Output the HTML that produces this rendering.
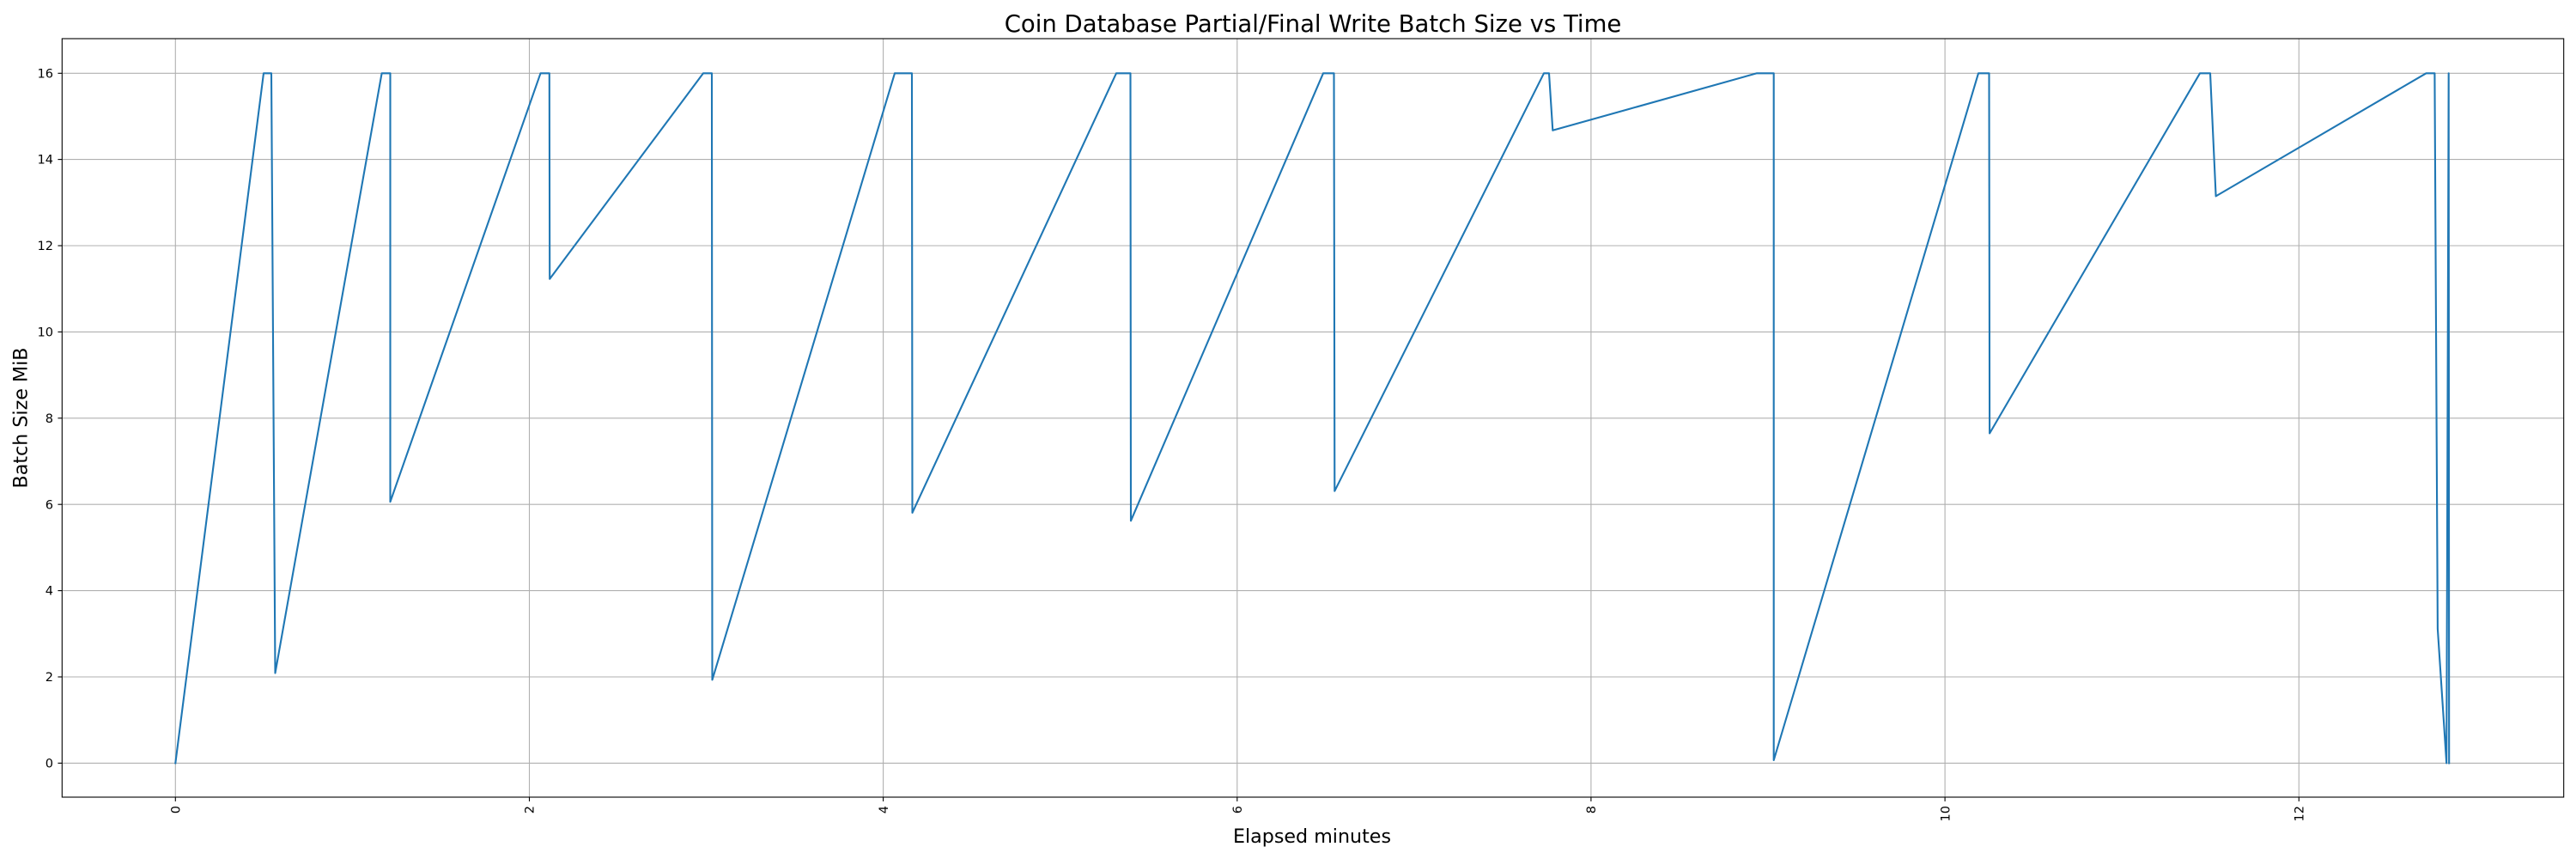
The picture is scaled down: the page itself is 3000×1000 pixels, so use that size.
<!DOCTYPE html>
<html><head><meta charset="utf-8"><style>
html,body{margin:0;padding:0;background:#fff;}
svg{display:block;}
text{font-family:"DejaVu Sans","Liberation Sans",sans-serif;fill:#000;}
</style></head><body>
<svg width="3000" height="1000" viewBox="0 0 3000 1000" xmlns="http://www.w3.org/2000/svg">
<rect x="0" y="0" width="3000" height="1000" fill="#fff"/>
<!-- grid -->
<g stroke="#b0b0b0" stroke-width="1.1" fill="none">
<line x1="204.3" y1="45" x2="204.3" y2="928"/>
<line x1="616.5" y1="45" x2="616.5" y2="928"/>
<line x1="1028.6" y1="45" x2="1028.6" y2="928"/>
<line x1="1440.8" y1="45" x2="1440.8" y2="928"/>
<line x1="1852.9" y1="45" x2="1852.9" y2="928"/>
<line x1="2265.1" y1="45" x2="2265.1" y2="928"/>
<line x1="2677.3" y1="45" x2="2677.3" y2="928"/>
<line x1="72.3" y1="888.4" x2="2985.7" y2="888.4"/>
<line x1="72.3" y1="788" x2="2985.7" y2="788"/>
<line x1="72.3" y1="687.6" x2="2985.7" y2="687.6"/>
<line x1="72.3" y1="587.2" x2="2985.7" y2="587.2"/>
<line x1="72.3" y1="486.8" x2="2985.7" y2="486.8"/>
<line x1="72.3" y1="386.4" x2="2985.7" y2="386.4"/>
<line x1="72.3" y1="286" x2="2985.7" y2="286"/>
<line x1="72.3" y1="185.6" x2="2985.7" y2="185.6"/>
<line x1="72.3" y1="85.3" x2="2985.7" y2="85.3"/>
</g>
<!-- data line -->
<polyline fill="none" stroke="#1f77b4" stroke-width="2.1" stroke-linejoin="round" stroke-linecap="square" points="
204.3,888.4 307,85.3 316,85.3 320.5,783.6 444.6,85.3 454.5,85.3 454.5,584.2 629.5,85.3 639.8,85.3 640.2,324.7
819,85.3 829,85.3 829.5,791.5 1042,85.3 1062,85.3 1062.5,596.9 1300,85.3 1316.5,85.3 1317,606.3
1541,85.3 1553.5,85.3 1554.3,571.7 1798,85.3 1804,85.3 1808.3,151.8 2046,85.3 2065.7,85.3 2065.7,885
2304,85.3 2316.5,85.3 2317.1,504.5 2562,85.3 2574,85.3 2580.6,228.4 2825.5,85.3 2835.4,85.3 2838.9,731.9
2849.2,888.4 2851.7,85.3 2852.2,888.4"/>
<!-- axes spines -->
<rect x="72.3" y="45" width="2913.4" height="883" fill="none" stroke="#000" stroke-width="1.1"/>
<!-- ticks -->
<g stroke="#000" stroke-width="1.1">
<line x1="204.3" y1="928" x2="204.3" y2="932.9"/>
<line x1="616.5" y1="928" x2="616.5" y2="932.9"/>
<line x1="1028.6" y1="928" x2="1028.6" y2="932.9"/>
<line x1="1440.8" y1="928" x2="1440.8" y2="932.9"/>
<line x1="1852.9" y1="928" x2="1852.9" y2="932.9"/>
<line x1="2265.1" y1="928" x2="2265.1" y2="932.9"/>
<line x1="2677.3" y1="928" x2="2677.3" y2="932.9"/>
<line x1="67.4" y1="888.4" x2="72.3" y2="888.4"/>
<line x1="67.4" y1="788" x2="72.3" y2="788"/>
<line x1="67.4" y1="687.6" x2="72.3" y2="687.6"/>
<line x1="67.4" y1="587.2" x2="72.3" y2="587.2"/>
<line x1="67.4" y1="486.8" x2="72.3" y2="486.8"/>
<line x1="67.4" y1="386.4" x2="72.3" y2="386.4"/>
<line x1="67.4" y1="286" x2="72.3" y2="286"/>
<line x1="67.4" y1="185.6" x2="72.3" y2="185.6"/>
<line x1="67.4" y1="85.3" x2="72.3" y2="85.3"/>
</g>
<!-- y tick labels -->
<g font-size="14.5" text-anchor="end">
<text x="62" y="893.5">0</text>
<text x="62" y="793.1">2</text>
<text x="62" y="692.7">4</text>
<text x="62" y="592.3">6</text>
<text x="62" y="491.9">8</text>
<text x="62" y="391.5">10</text>
<text x="62" y="291.1">12</text>
<text x="62" y="190.7">14</text>
<text x="62" y="90.4">16</text>
</g>
<!-- x tick labels (rotated) -->
<g font-size="14.5" text-anchor="end">
<text transform="translate(209.5,938) rotate(-90)">0</text>
<text transform="translate(621.7,938) rotate(-90)">2</text>
<text transform="translate(1033.8,938) rotate(-90)">4</text>
<text transform="translate(1446,938) rotate(-90)">6</text>
<text transform="translate(1858.1,938) rotate(-90)">8</text>
<text transform="translate(2270.3,938) rotate(-90)">10</text>
<text transform="translate(2682.5,938) rotate(-90)">12</text>
</g>
<!-- axis labels -->
<text x="1528" y="981" font-size="22.2" text-anchor="middle">Elapsed minutes</text>
<text transform="translate(31.5,486.5) rotate(-90)" font-size="22.2" text-anchor="middle">Batch Size MiB</text>
<!-- title -->
<text x="1529" y="37" font-size="27.5" text-anchor="middle">Coin Database Partial/Final Write Batch Size vs Time</text>
</svg>
</body></html>
